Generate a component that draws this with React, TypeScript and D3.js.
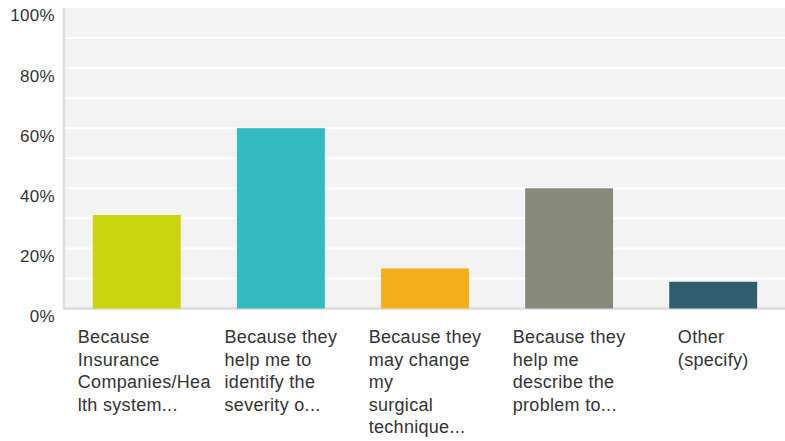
import React, { useMemo } from "react";
import * as d3 from "d3";

// Answer categories (as wrapped/truncated in the survey export) and their shares
const categories = ["A", "B", "C", "D", "E"];
const categoryLines: string[][] = [
  ["Because", "Insurance", "Companies/Hea", "lth system..."],
  ["Because they", "help me to", "identify the", "severity o..."],
  ["Because they", "may change", "my", "surgical", "technique..."],
  ["Because they", "help me", "describe the", "problem to..."],
  ["Other", "(specify)"],
];
const percentages = [31.11, 60, 13.33, 40, 8.89];
const barColors = ["#cbd50f", "#33bbc1", "#f5af19", "#878a7a", "#2f5f6d"];
const yTicks = [0, 20, 40, 60, 80, 100];
const gridValues = [10, 20, 30, 40, 50, 60, 70, 80, 90];

const WIDTH = 785;
const HEIGHT = 441;
const FONT = "Helvetica, Arial, 'Liberation Sans', sans-serif";
const LABEL_SIZE = 18;
const LABEL_SPACING = 0.3;
const TICK_SIZE = 17;
const LABEL_MAX = 118;

export default function App() {
  const x = d3
    .scaleBand<string>()
    .domain(categories)
    .range([64, 786])
    .paddingInner(0.39)
    .paddingOuter(0.2);
  const y = d3.scaleLinear().domain([0, 100]).range([308.5, 8]);

  // widest line of each wrapped label, used to centre the block under its bar
  const blockWidths = useMemo(() => {
    const ctx = document.createElement("canvas").getContext("2d") as any;
    return categoryLines.map((lines) => {
      if (!ctx) return LABEL_MAX;
      ctx.font = `${LABEL_SIZE}px ${FONT}`;
      if ("letterSpacing" in ctx) ctx.letterSpacing = `${LABEL_SPACING}px`;
      const w = d3.max(lines, (l) => ctx.measureText(l).width as number) ?? 0;
      return Math.min(w, LABEL_MAX);
    });
  }, []);

  const [x0, x1] = x.range();

  return (
    <svg
      width={WIDTH}
      height={HEIGHT}
      style={{ display: "block", position: "absolute", left: 0, top: 0 }}
      fontFamily={FONT}
    >
      <rect x={0} y={0} width={WIDTH} height={HEIGHT} fill="#fff" />
      {/* plot background */}
      <rect x={x0} y={y(100)} width={x1 - x0} height={y(0) - y(100)} fill="#f3f3f3" />
      {gridValues.map((v) => (
        <line key={v} x1={x0} x2={x1} y1={y(v)} y2={y(v)} stroke="#ffffff" strokeWidth={2} />
      ))}
      {/* axes */}
      <line x1={x0} x2={x0} y1={y(100)} y2={y(0) + 1.5} stroke="#e0e0e0" strokeWidth={2.5} />
      <line x1={x0 - 1} x2={x1} y1={y(0)} y2={y(0)} stroke="#e0e0e0" strokeWidth={3} />
      {/* bars */}
      {categories.map((c, i) => (
        <rect
          key={c}
          x={x(c)}
          y={y(percentages[i])}
          width={x.bandwidth()}
          height={y(0) - y(percentages[i])}
          fill={barColors[i]}
        />
      ))}
      {/* y tick labels */}
      {yTicks.map((t) => (
        <text
          key={t}
          x={55}
          y={y(t) + 9}
          textAnchor="end"
          dominantBaseline="middle"
          fontSize={TICK_SIZE}
          letterSpacing={0.3}
          fill="#333"
        >
          {`${t}%`}
        </text>
      ))}
      {/* category labels */}
      {categories.map((c, i) => {
        const cx = (x(c) ?? 0) + x.bandwidth() / 2;
        const left = cx - blockWidths[i] / 2;
        return (
          <text key={c} fontSize={LABEL_SIZE} letterSpacing={LABEL_SPACING} fill="#333">
            {categoryLines[i].map((line, j) => (
              <tspan key={j} x={left} y={343 + j * 22.5}>
                {line}
              </tspan>
            ))}
          </text>
        );
      })}
    </svg>
  );
}
